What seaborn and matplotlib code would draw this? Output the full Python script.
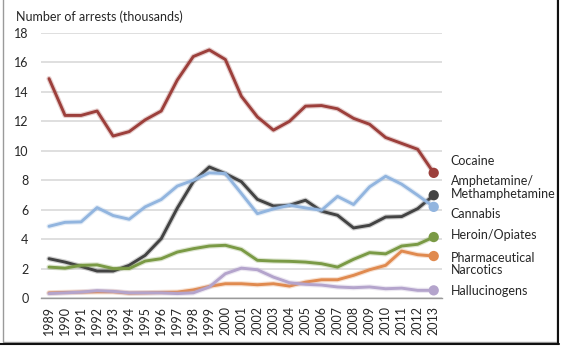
import numpy as np
import pandas as pd
import seaborn as sns
import matplotlib.pyplot as plt
import matplotlib.patheffects as pe
from matplotlib.patches import Rectangle
from matplotlib.lines import Line2D

years = list(range(1989, 2014))

cocaine = [14.9, 12.4, 12.4, 12.7, 11.0, 11.3, 12.1, 12.7, 14.8, 16.4, 16.85, 16.2,
           13.7, 12.3, 11.4, 12.0, 13.03, 13.07, 12.85, 12.2, 11.8, 10.9, 10.5, 10.1, 8.5]
amphetamine = [2.67, 2.44, 2.15, 1.83, 1.83, 2.22, 2.9, 4.03, 6.1, 7.9, 8.9, 8.45,
               7.9, 6.7, 6.25, 6.3, 6.64, 5.9, 5.62, 4.76, 4.94, 5.5, 5.53, 6.07, 6.98]
cannabis = [4.87, 5.14, 5.17, 6.14, 5.6, 5.35, 6.19, 6.69, 7.6, 8.0, 8.5, 8.45,
            7.1, 5.73, 6.05, 6.3, 6.12, 5.96, 6.9, 6.35, 7.55, 8.27, 7.73, 6.98, 6.19]
heroin = [2.1, 2.03, 2.22, 2.25, 2.0, 2.0, 2.51, 2.67, 3.12, 3.35, 3.53, 3.58,
          3.3, 2.56, 2.51, 2.49, 2.44, 2.33, 2.1, 2.63, 3.08, 3.0, 3.53, 3.65, 4.14]
pharma = [0.35, 0.38, 0.4, 0.42, 0.42, 0.33, 0.35, 0.38, 0.4, 0.55, 0.79, 0.97,
          0.97, 0.9, 0.97, 0.81, 1.08, 1.24, 1.24, 1.54, 1.92, 2.22, 3.19, 2.94, 2.85]
halluc = [0.3, 0.35, 0.4, 0.5, 0.45, 0.35, 0.35, 0.35, 0.3, 0.35, 0.75, 1.65,
          2.03, 1.92, 1.42, 1.04, 0.93, 0.88, 0.75, 0.7, 0.75, 0.63, 0.67, 0.52, 0.52]

series = {
    "Cocaine": cocaine,
    "Amphetamine/\nMethamphetamine": amphetamine,
    "Cannabis": cannabis,
    "Heroin/Opiates": heroin,
    "Pharmaceutical\nNarcotics": pharma,
    "Hallucinogens": halluc,
}
colors = {
    "Cocaine": "#9c3f3b",
    "Amphetamine/\nMethamphetamine": "#434343",
    "Cannabis": "#92b5df",
    "Heroin/Opiates": "#7a9a45",
    "Pharmaceutical\nNarcotics": "#e08a4f",
    "Hallucinogens": "#b4a4cc",
}
label_y = {
    "Cocaine": 9.3,
    "Amphetamine/\nMethamphetamine": 7.5,
    "Cannabis": 5.73,
    "Heroin/Opiates": 4.26,
    "Pharmaceutical\nNarcotics": 2.3,
    "Hallucinogens": 0.45,
}

rows = []
for name, vals in series.items():
    for i, (yr, v) in enumerate(zip(years, vals)):
        rows.append({"idx": i, "year": yr, "drug": name, "value": v})
df = pd.DataFrame(rows)

sns.set_theme(style="white")
plt.rcParams["font.family"] = ["Lato", "DejaVu Sans"]

fig = plt.figure(figsize=(5.64, 3.46), dpi=100)
ax = fig.add_axes([0.0727, 0.1387, 0.7105, 0.766])

# gray frame around the chart with a dark edge on right and bottom
fig.patches.append(Rectangle((3 / 564, 4 / 346), 554 / 564, 346, transform=fig.transFigure,
                             fill=False, edgecolor="#9a9a9a", linewidth=1.0, zorder=0))
fig.lines.append(Line2D([558 / 564, 558 / 564], [2 / 346, 1.0], transform=fig.transFigure,
                        color="#111111", linewidth=1.5))
fig.lines.append(Line2D([0, 559 / 564], [2 / 346, 2 / 346], transform=fig.transFigure,
                        color="#111111", linewidth=1.5))

sns.lineplot(data=df, x="idx", y="value", hue="drug", palette=colors,
             linewidth=2.1, legend=False, ax=ax, zorder=3)
for line, name in zip(ax.lines, series.keys()):
    line.set_path_effects([pe.Stroke(linewidth=3.8, foreground=colors[name], alpha=0.25),
                           pe.Normal()])

last = df[df["idx"] == len(years) - 1]
sns.scatterplot(data=last, x="idx", y="value", hue="drug", palette=colors,
                s=55, edgecolor="none", legend=False, ax=ax, zorder=4)

for name in series:
    ax.text(25.05, label_y[name], name, fontsize=9, color="#262626",
            va="center", ha="left", linespacing=1.05, clip_on=False)

ax.set_xlim(-0.5, len(years) - 0.5)
ax.set_ylim(0, 18)
ax.set_yticks(range(0, 19, 2))
ax.set_xticks(range(len(years)))
ax.set_xticklabels([str(y) for y in years], rotation=90, fontsize=9, color="#262626")
ax.set_xticks(np.arange(-0.5, len(years), 1.0), minor=True)
ax.tick_params(axis="x", which="major", length=0, pad=6)
ax.tick_params(axis="x", which="minor", length=5, width=1, color="#9a9a9a", direction="out")
ax.tick_params(axis="y", length=0, pad=9, labelsize=9, labelcolor="#262626")
ax.grid(axis="y", color="#d9d9d9", linewidth=1.2)
ax.set_axisbelow(True)
for s in ["top", "right", "left"]:
    ax.spines[s].set_visible(False)
ax.spines["bottom"].set_color("#9a9a9a")
ax.spines["bottom"].set_linewidth(1.0)
ax.set_xlabel("")
ax.set_ylabel("")

fig.text(16 / 564, 1 - 17 / 346, "Number of arrests (thousands)", fontsize=9,
         color="#262626", va="center", ha="left")

fig.savefig("out.png", dpi=100)
